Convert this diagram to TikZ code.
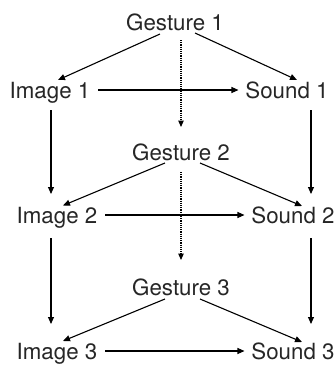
\documentclass[tikz,border=0pt]{standalone}
\usepackage{fontspec}
\setmainfont{TeX Gyre Heros}
\usetikzlibrary{arrows.meta}
\begin{document}
\begin{tikzpicture}[x=1pt,y=-1pt,
  lbl/.style={inner sep=0pt, outer sep=0pt, text height=16pt, text depth=0pt,
    font=\fontsize{22.3}{25}\selectfont, text=black!85},
  arr/.style={line width=1.1pt, -{Stealth[length=7pt,width=6pt,inset=0pt]}},
  dotarr/.style={line width=1.2pt, dash pattern=on 1.2pt off 1pt, -{Stealth[length=6.5pt,width=5.5pt,inset=0pt]}},
  hor/.style={arr, shorten <=8pt, shorten >=7pt}]
\useasboundingbox (0,0) rectangle (335,368);
\node[lbl] (g1) at (175,22) {Gesture 1};
\node[lbl] (i1) at (50,90) {Image 1};
\node[lbl] (s1) at (287,90) {Sound 1};
\node[lbl] (g2) at (181,152) {Gesture 2};
\node[lbl] (i2) at (57,215) {Image 2};
\node[lbl] (s2) at (293,215) {Sound 2};
\node[lbl] (g3) at (181,287) {Gesture 3};
\node[lbl] (i3) at (57,351) {Image 3};
\node[lbl] (s3) at (293,351) {Sound 3};
% diagonals
\draw[arr] ([shift={(-15,4)}]g1.south) -- ([shift={(8,-2)}]i1.north);
\draw[arr] ([shift={(20,3)}]g1.south) -- ([shift={(10,-2)}]s1.north);
\draw[arr] ([shift={(-16,3)}]g2.south) -- ([shift={(6,-1.5)}]i2.north);
\draw[arr] ([shift={(19,3)}]g2.south) -- ([shift={(9,-1)}]s2.north);
\draw[arr] ([shift={(-16,4)}]g3.south) -- ([shift={(6,-2)}]i3.north);
\draw[arr] ([shift={(19,4)}]g3.south) -- ([shift={(9,-1)}]s3.north);
% horizontals
\draw[hor] (i1.east) -- (s1.west);
\draw[hor] (i2.east) -- (s2.west);
\draw[hor] (i3.east) -- (s3.west);
% verticals
\draw[arr] ([shift={(1,12)}]i1.south) -- ([shift={(-6,-13)}]i2.north);
\draw[arr] ([shift={(-6,15)}]i2.south) -- ([shift={(-6,-19)}]i3.north);
\draw[arr] ([shift={(24,12)}]s1.south) -- ([shift={(18,-13)}]s2.north);
\draw[arr] ([shift={(18,15)}]s2.south) -- ([shift={(18,-19)}]s3.north);
% dotted
\draw[dotarr] ([shift={(6,10)}]g1.south) -- ([shift={(0,-17)}]g2.north);
\draw[dotarr] ([shift={(0,12)}]g2.south) -- ([shift={(0,-19)}]g3.north);
\end{tikzpicture}
\end{document}
